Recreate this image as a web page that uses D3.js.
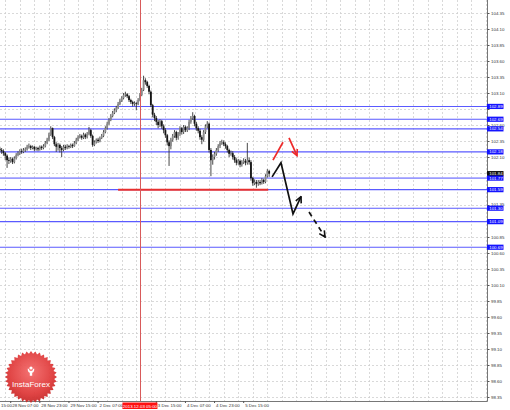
<!DOCTYPE html>
<html><head><meta charset="utf-8">
<script src="https://cdn.jsdelivr.net/npm/d3@7"></script>
<style>body{margin:0;background:#fff}svg{display:block}</style>
</head><body><svg id="c" width="510" height="410"></svg>
<script>
// ---------------- DATA ----------------
// H1 bars, index 0 = 28 Nov 01:00 ... index 148 = 6 Dec 05:00 (weekend skipped)
const closes = [102.21,102.19,102.16,102.12,102.05,102.04,102.07,102.02,102.08,102.13,
102.16,102.19,102.18,102.21,102.22,102.26,102.27,102.24,102.26,102.22,
102.24,102.22,102.26,102.24,102.27,102.32,102.37,102.45,102.55,102.41,
102.30,102.26,102.29,102.24,102.21,102.26,102.24,102.27,102.26,102.29,
102.27,102.32,102.37,102.41,102.43,102.40,102.45,102.41,102.46,102.52,
102.43,102.29,102.33,102.37,102.35,102.40,102.43,102.49,102.55,102.62,
102.68,102.74,102.79,102.83,102.87,102.93,102.98,103.02,103.07,103.08,
103.05,102.99,102.96,102.93,102.94,102.93,102.99,103.07,103.15,103.30,
103.27,103.21,103.12,102.91,102.76,102.71,102.65,102.60,102.66,102.58,
102.52,102.44,102.33,102.27,102.37,102.43,102.49,102.40,102.46,102.55,
102.49,102.57,102.52,102.55,102.65,102.71,102.74,102.62,102.55,102.51,
102.41,102.37,102.49,102.58,102.62,102.21,102.05,102.10,102.15,102.21,
102.27,102.32,102.33,102.30,102.27,102.21,102.15,102.16,102.10,102.05,
102.01,102.04,101.98,102.02,102.04,102.01,102.05,102.02,101.77,101.69,
101.71,101.68,101.71,101.69,101.74,101.71,101.80,101.88,101.84];
const highs = [102.26,102.24,102.22,102.18,102.14,102.09,102.10,102.09,102.11,102.16,
102.19,102.22,102.23,102.24,102.25,102.29,102.31,102.29,102.28,102.27,
102.26,102.26,102.28,102.28,102.30,102.35,102.40,102.48,102.58,102.56,
102.43,102.33,102.32,102.31,102.27,102.29,102.29,102.30,102.29,102.31,
102.31,102.35,102.40,102.44,102.46,102.45,102.48,102.47,102.49,102.57,
102.54,102.45,102.36,102.39,102.40,102.42,102.46,102.52,102.58,102.65,
102.71,102.77,102.82,102.86,102.90,102.96,103.01,103.05,103.10,103.12,
103.10,103.07,103.01,102.98,102.97,102.96,103.02,103.10,103.18,103.37,
103.33,103.29,103.23,103.14,102.93,102.79,102.74,102.68,102.69,102.68,
102.61,102.55,102.46,102.36,102.40,102.46,102.52,102.51,102.49,102.58,
102.57,102.60,102.59,102.58,102.68,102.74,102.80,102.76,102.65,102.58,
102.54,102.44,102.52,102.61,102.66,102.64,102.24,102.14,102.18,102.24,
102.30,102.35,102.37,102.36,102.33,102.29,102.23,102.20,102.19,102.13,
102.08,102.07,102.06,102.05,102.08,102.07,102.32,102.09,102.05,101.79,
101.75,101.74,101.74,101.74,101.77,101.76,101.83,101.91,101.90];
const lows = [102.17,102.15,102.12,102.05,101.93,101.99,102.01,101.99,102.00,102.06,
102.11,102.13,102.15,102.16,102.18,102.20,102.23,102.21,102.22,102.19,
102.20,102.19,102.20,102.21,102.22,102.25,102.30,102.35,102.43,102.38,
102.27,102.18,102.20,102.17,102.10,102.19,102.21,102.22,102.23,102.24,
102.24,102.26,102.30,102.35,102.39,102.37,102.38,102.38,102.39,102.44,
102.40,102.26,102.27,102.31,102.32,102.33,102.38,102.41,102.47,102.53,
102.60,102.66,102.72,102.77,102.80,102.85,102.91,102.96,103.00,103.04,
103.02,102.96,102.93,102.89,102.90,102.83,102.91,102.97,103.05,103.13,
103.23,103.18,103.08,102.88,102.72,102.66,102.60,102.55,102.57,102.54,
102.47,102.40,102.28,101.96,102.22,102.34,102.40,102.36,102.37,102.43,
102.45,102.46,102.49,102.49,102.52,102.62,102.68,102.58,102.51,102.47,
102.37,102.30,102.34,102.46,102.55,102.17,101.80,101.98,102.06,102.12,
102.18,102.24,102.29,102.27,102.23,102.17,102.10,102.12,102.06,102.01,
101.97,101.98,101.94,101.95,101.99,101.97,101.98,101.98,101.73,101.65,
101.66,101.62,101.65,101.66,101.67,101.68,101.69,101.78,101.79];
const firstOpen = 102.23; // FX bars open at the previous close

const priceTickLabels = ["104.35","104.10","103.85","103.60","103.35","103.10","102.85","102.60","102.35","102.10",
"101.85","101.60","101.35","101.10","100.85","100.60","100.35","100.10","99.85","99.60",
"99.35","99.10","98.85","98.60","98.35"];
// visible time labels (the 2 Dec 23:00 label sits under the cursor box)
const timeLabels = ["15:00","28 Nov 07:00","28 Nov 23:00","29 Nov 15:00","2 Dec 07:00","3 Dec 15:00","4 Dec 07:00","4 Dec 23:00","5 Dec 15:00"];
const timeLabelBars = [-10,6,22,38,54,86,102,118,134];

const levelPrices = [102.89,102.69,102.54,102.18,101.77,101.59,101.30,101.09,100.69];
const supportPrice = 101.59, supportFromBar = 65, supportToBar = 147.5;
const cursorBar = 77, cursorLabel = "2013.12.03 05:00";

const forecastSolid  = [[149.6,101.79],[154.5,102.01],[161.1,101.21],[165.5,101.48]];
const forecastDashed = [[169.9,101.24],[178.7,100.85]];
const redUp    = [[150.1,102.05],[155.6,102.33]];
const redArrow = [[158.9,102.40],[163.3,102.12]];

// ---------------- CHART ----------------
const svg = d3.select("#c");
const W = 487, H = 401;
const FONT = "Liberation Sans, Arial, sans-serif";
const x = d3.scaleLinear().domain([0,148]).range([-0.2, 269.16]);
const y = d3.scaleLinear().domain([98.35,104.35]).range([397,13]);
const opens = closes.map((c,i)=> i===0 ? firstOpen : closes[i-1]);
const bars = closes.map((c,i)=>({i, o:opens[i], h:highs[i], l:lows[i], c}));
const last = closes[closes.length-1];

const defs = svg.append("defs");
defs.append("clipPath").attr("id","plot").append("rect").attr("x",0).attr("y",0).attr("width",W).attr("height",H);
function marker(id,color){
  defs.append("marker").attr("id",id).attr("viewBox","0 0 8 8").attr("refX",7).attr("refY",4)
    .attr("markerWidth",8).attr("markerHeight",8).attr("markerUnits","userSpaceOnUse").attr("orient","auto")
    .append("path").attr("d","M1,1 L7,4 L1,7").attr("fill","none").attr("stroke",color).attr("stroke-width",1.6);
}
marker("mBlack","#111"); marker("mRed","#ee2a2a");

const plot = svg.append("g").attr("clip-path","url(#plot)");
const priceTicks = priceTickLabels.map(Number);

// grid
plot.append("g").selectAll("line").data(priceTicks).join("line")
  .attr("x1",0).attr("x2",W).attr("y1",d=>Math.round(y(d))+0.5).attr("y2",d=>Math.round(y(d))+0.5)
  .attr("stroke","#cfcfcf").attr("stroke-dasharray","2,2").attr("stroke-width",0.8);
const vGrid = d3.range(3, 270, 8);
plot.append("g").selectAll("line").data(vGrid).join("line")
  .attr("y1",0).attr("y2",H).attr("x1",d=>Math.round(x(d))+0.5).attr("x2",d=>Math.round(x(d))+0.5)
  .attr("stroke","#cfcfcf").attr("stroke-dasharray","2,2").attr("stroke-width",0.8);

// levels
plot.append("g").selectAll("line").data(levelPrices).join("line")
  .attr("x1",0).attr("x2",W).attr("y1",d=>y(d)).attr("y2",d=>y(d))
  .attr("stroke",(d,i)=> i===4 ? "#9a9aff" : "#5a5aff").attr("stroke-width",(d,i)=> i===4 ? 1.8 : 1.1);

// candles
const cg = plot.append("g");
cg.selectAll("line").data(bars).join("line")
  .attr("x1",d=>x(d.i)).attr("x2",d=>x(d.i)).attr("y1",d=>y(d.h)).attr("y2",d=>y(d.l))
  .attr("stroke","#333").attr("stroke-width",0.9);
cg.selectAll("rect").data(bars).join("rect")
  .attr("x",d=>x(d.i)-0.9).attr("width",1.8)
  .attr("y",d=>y(Math.max(d.o,d.c)))
  .attr("height",d=>Math.max(0.8, Math.abs(y(d.o)-y(d.c))))
  .attr("fill",d=> d.c>=d.o ? "#8a8a8a" : "#151515");

// support line
plot.append("line").attr("x1",x(supportFromBar)).attr("x2",x(supportToBar))
  .attr("y1",y(supportPrice)).attr("y2",y(supportPrice)).attr("stroke","#e8302f").attr("stroke-width",2);

// cursor
plot.append("line").attr("x1",Math.round(x(cursorBar))+0.5).attr("x2",Math.round(x(cursorBar))+0.5)
  .attr("y1",0).attr("y2",H).attr("stroke","#d85a5a").attr("stroke-width",1);

// forecast annotations
const ln = d3.line().x(d=>x(d[0])).y(d=>y(d[1]));
plot.append("path").attr("d",ln(forecastSolid)).attr("fill","none").attr("stroke","#111").attr("stroke-width",1.7)
  .attr("stroke-linejoin","miter").attr("marker-end","url(#mBlack)");
plot.append("path").attr("d",ln(forecastDashed)).attr("fill","none").attr("stroke","#111").attr("stroke-width",1.7)
  .attr("stroke-dasharray","5,4").attr("marker-end","url(#mBlack)");
plot.append("path").attr("d",ln(redUp)).attr("fill","none").attr("stroke","#ee2a2a").attr("stroke-width",1.7);
plot.append("path").attr("d",ln(redArrow)).attr("fill","none").attr("stroke","#ee2a2a").attr("stroke-width",1.7)
  .attr("marker-end","url(#mRed)");

// frame
svg.append("line").attr("x1",0).attr("x2",W+0.5).attr("y1",H+0.5).attr("y2",H+0.5).attr("stroke","#777");
svg.append("line").attr("x1",W+0.5).attr("x2",W+0.5).attr("y1",0).attr("y2",H+0.5).attr("stroke","#777");

// right price axis (tick labels fully covered by a price box are not drawn, near ones nudged)
const boxYs = levelPrices.concat([last]).map(p=>y(p));
const covered = p => boxYs.some(by=>Math.abs(by-y(p))<3);
function nudge(p){
  const yp = y(p); let dy = 0;
  boxYs.forEach(by=>{ const d = yp-by; if (Math.abs(d)>=3 && Math.abs(d)<4.2) dy += Math.sign(d)*(4.2-Math.abs(d)); });
  return dy;
}
const ax = svg.append("g").attr("transform",`translate(${W+0.5},0)`)
  .call(d3.axisRight(y).tickValues(priceTicks).tickFormat((d,i)=> covered(d) ? "" : priceTickLabels[i]).tickSize(2).tickPadding(1.5));
ax.select(".domain").remove();
ax.selectAll("line").attr("stroke","#555");
ax.selectAll("text").attr("font-family",FONT).attr("font-size",4.4).attr("fill","#333")
  .attr("transform",d=>`translate(0,${nudge(d)})`);

// current price box (black)
const cb = svg.append("g").attr("transform",`translate(${W},${y(last)})`);
cb.append("rect").attr("x",0).attr("y",-2.6).attr("width",16.5).attr("height",5.2).attr("fill","#111");
cb.append("text").attr("x",2.2).attr("y",1.6).text(last.toFixed(2))
  .attr("font-family",FONT).attr("font-size",4.4).attr("fill","#fff");

// level price boxes
const lb = svg.append("g").selectAll("g").data(levelPrices).join("g")
  .attr("transform",d=>`translate(${W},${y(d)})`);
lb.append("rect").attr("x",0).attr("y",-2.6).attr("width",16.5).attr("height",5.2).attr("fill","#1414ff");
lb.append("text").attr("x",2.2).attr("y",1.6).text(d=>d.toFixed(2))
  .attr("font-family",FONT).attr("font-size",4.4).attr("fill","#fff");

// bottom time axis
const tl = svg.append("g").selectAll("g").data(timeLabels).join("g")
  .attr("transform",(d,i)=>`translate(${x(timeLabelBars[i])},${H})`);
tl.append("line").attr("y1",0).attr("y2",2).attr("stroke","#555").attr("display",(d,i)=> x(timeLabelBars[i])<0 ? "none" : null);
tl.append("text").attr("x",(d,i)=> Math.max(1, x(timeLabelBars[i])+1.5) - x(timeLabelBars[i])).attr("y",6.3).text(d=>d)
  .attr("font-family",FONT).attr("font-size",4.4).attr("fill","#333");
// cursor time box
const cx = x(cursorBar);
svg.append("rect").attr("x",cx-17.5).attr("y",H+1.5).attr("width",35).attr("height",6.5).attr("fill","#ff1010");
svg.append("text").attr("x",cx).attr("y",H+6.5).attr("text-anchor","middle").text(cursorLabel)
  .attr("font-family",FONT).attr("font-size",4.4).attr("fill","#fff");

// InstaForex badge
const rg = defs.append("radialGradient").attr("id","badge").attr("cx","50%").attr("cy","40%").attr("r","60%");
rg.append("stop").attr("offset","0%").attr("stop-color","#f36b6b");
rg.append("stop").attr("offset","70%").attr("stop-color","#df3b3b");
rg.append("stop").attr("offset","100%").attr("stop-color","#c62a2a");
const teeth = 36, rOut = 26, rIn = 23.3, bcx = 31, bcy = 377;
const gear = d3.range(teeth*2).map(k=>{const a=k*Math.PI/teeth; const r=k%2?rIn:rOut; return [bcx+r*Math.sin(a), bcy-r*Math.cos(a)];});
const badge = svg.append("g");
badge.append("path").attr("d",d3.line().curve(d3.curveLinearClosed)(gear)).attr("fill","url(#badge)").attr("opacity",0.95);
badge.append("circle").attr("cx",bcx).attr("cy",bcy-9).attr("r",1.6).attr("fill","#fff");
badge.append("path").attr("d",`M${bcx-3.2},${bcy-8.5} Q${bcx-3.6},${bcy-5} ${bcx-1.2},${bcy-4.2} L${bcx-1.2},${bcy-1.2} L${bcx+1.2},${bcy-1.2} L${bcx+1.2},${bcy-4.2} Q${bcx+3.6},${bcy-5} ${bcx+3.2},${bcy-8.5} L${bcx+2},${bcy-8} Q${bcx+2},${bcy-6} ${bcx},${bcy-6} Q${bcx-2},${bcy-6} ${bcx-2},${bcy-8} Z`).attr("fill","#fff");
badge.append("text").attr("x",bcx).attr("y",bcy+9.5).attr("text-anchor","middle").text("InstaForex")
  .attr("font-family",FONT).attr("font-size",8).attr("fill","#fff");
</script></body></html>
